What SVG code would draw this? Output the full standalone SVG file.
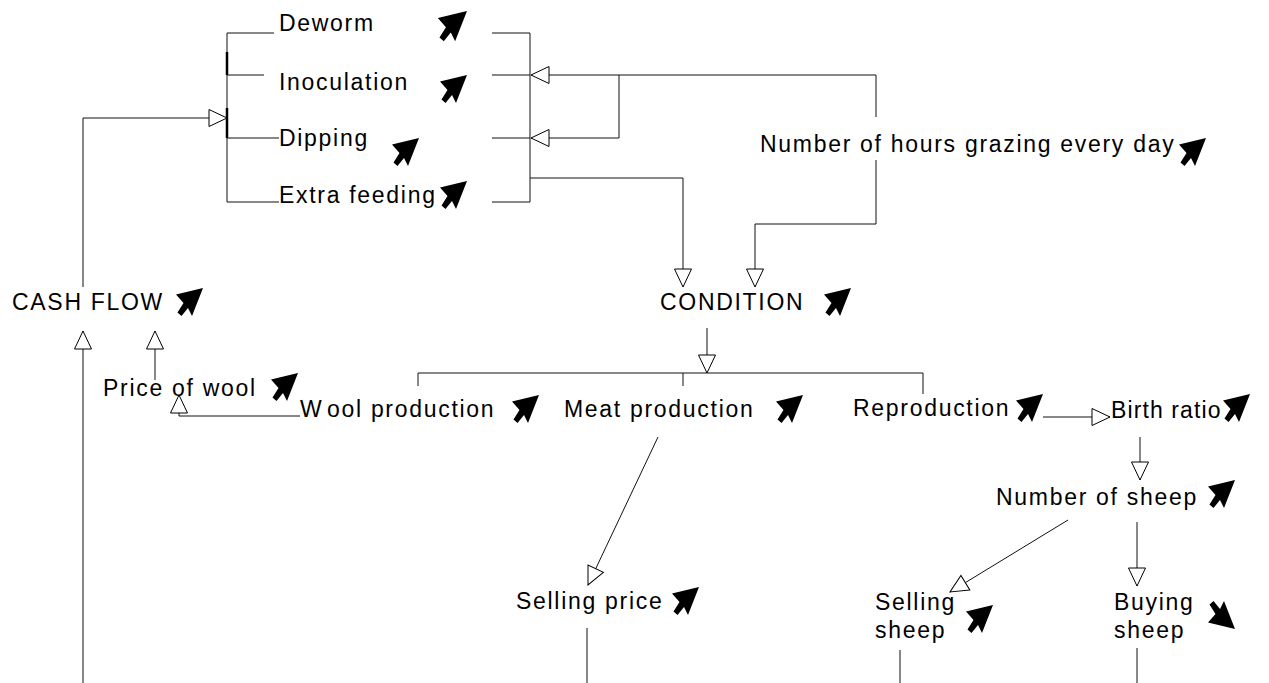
<svg xmlns="http://www.w3.org/2000/svg" width="1269" height="683" viewBox="0 0 1269 683">
<style>
text{font-family:"Liberation Sans",Arial,sans-serif;font-size:23px;letter-spacing:1.7px;fill:#000}
.c{fill:none;stroke:#111;stroke-width:1}
.a{marker-end:url(#ah)}
.thick{stroke-width:2.5;stroke:#000}
.ic{fill:#000}
</style>
<defs>
<marker id="ah" viewBox="0 0 20 20" markerWidth="20" markerHeight="20" refX="19" refY="10" orient="auto" markerUnits="userSpaceOnUse">
<path d="M1,1.5 L19,10 L1,18.5 Z" fill="#fff" stroke="#000" stroke-width="1"/>
</marker>
<path id="icon" d="M0,0 L-27,6.5 L-19.5,15 L-25.5,24.5 L-21.5,28 L-15,20 L-11,28 Z"/>
</defs>
<rect width="1269" height="683" fill="#fff"/>
<g id="connectors">
<path class="c" d="M227,33 V202 M227,33 H274 M227,75 H264 M227,138 H279 M227,202 H279"/>
<path class="c thick" d="M227,52 V75 M227,108 V138"/>
<path class="c" d="M530,33 V202 M492,33 H530 M492,75 H530 M492,138 H530 M492,202 H530"/>
<polyline class="c a" points="83,287 83,118 227,118"/>
<polyline class="c a" points="876,117 876,75 531,75"/>
<polyline class="c a" points="619,75 619,138 531,138"/>
<polyline class="c a" points="530,178 683,178 683,287"/>
<polyline class="c a" points="876,160 876,224 755,224 755,287"/>
<line class="c a" x1="707" y1="328" x2="707" y2="373"/>
<path class="c" d="M418,386 V373 H923 V394 M683,373 V386"/>
<polyline class="c a" points="300,416 179,416 179,395"/>
<line class="c a" x1="155" y1="380" x2="155" y2="331"/>
<line class="c a" x1="83" y1="683" x2="83" y2="331"/>
<line class="c a" x1="1043" y1="417" x2="1110" y2="417"/>
<line class="c a" x1="1140" y1="437" x2="1140" y2="480"/>
<line class="c a" x1="1068" y1="520" x2="950" y2="592"/>
<line class="c a" x1="1137" y1="522" x2="1137" y2="586"/>
<line class="c a" x1="658" y1="437" x2="588" y2="585"/>
<path class="c" d="M587,628 V683 M900,650 V683 M1137,648 V683"/>
</g>
<g id="deworm"><text x="279" y="31">Deworm</text><use href="#icon" class="ic" transform="translate(467,11) scale(1.08)"/></g>
<g id="inoculation"><text x="279" y="90">Inoculation</text><use href="#icon" class="ic" transform="translate(467,75)"/></g>
<g id="dipping"><text x="279" y="146">Dipping</text><use href="#icon" class="ic" transform="translate(419,138)"/></g>
<g id="extra-feeding"><text x="279" y="203">Extra feeding</text><use href="#icon" class="ic" transform="translate(467,181)"/></g>
<g id="hours-grazing"><text x="760" y="152">Number of hours grazing every day</text><use href="#icon" class="ic" transform="translate(1206,138)"/></g>
<g id="cash-flow"><text x="12" y="310">CASH FLOW</text><use href="#icon" class="ic" transform="translate(203,288)"/></g>
<g id="condition"><text x="660" y="310">CONDITION</text><use href="#icon" class="ic" transform="translate(851,288)"/></g>
<g id="price-of-wool"><text x="103" y="396">Price of wool</text><use href="#icon" class="ic" transform="translate(298,373)"/></g>
<g id="wool-production"><text x="300" y="417">W<tspan dx="4">ool production</tspan></text><use href="#icon" class="ic" transform="translate(539,395)"/></g>
<g id="meat-production"><text x="564" y="417">Meat production</text><use href="#icon" class="ic" transform="translate(803,395)"/></g>
<g id="reproduction"><text x="853" y="416">Reproduction</text><use href="#icon" class="ic" transform="translate(1043,394)"/></g>
<g id="birth-ratio"><text x="1111" y="418" style="letter-spacing:1.1px">Birth ratio</text><use href="#icon" class="ic" transform="translate(1250,394)"/></g>
<g id="number-of-sheep"><text x="996" y="505">Number of sheep</text><use href="#icon" class="ic" transform="translate(1235,480)"/></g>
<g id="selling-price"><text x="516" y="609">Selling price</text><use href="#icon" class="ic" transform="translate(699,587)"/></g>
<g id="selling-sheep"><text x="875" y="610">Selling</text><text x="875" y="638">sheep</text><use href="#icon" class="ic" transform="translate(993,605)"/></g>
<g id="buying-sheep"><text x="1114" y="610">Buying</text><text x="1114" y="638">sheep</text><use href="#icon" class="ic" transform="translate(1235,629) scale(1,-1)"/></g>
</svg>
